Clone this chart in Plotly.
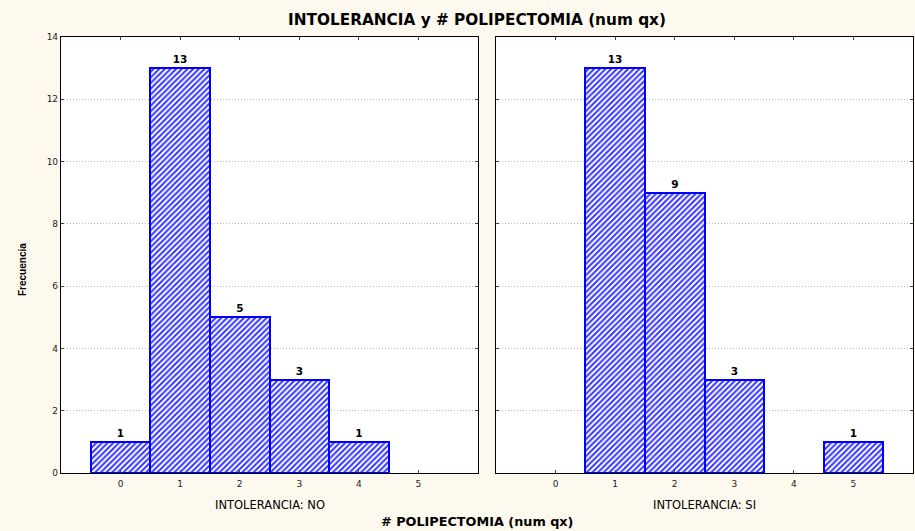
import plotly.graph_objects as go

categories = [0, 1, 2, 3, 4, 5]
counts_no = [1, 13, 5, 3, 1, None]
counts_si = [None, 13, 9, 3, None, 1]
y_ticks = [0, 2, 4, 6, 8, 10, 12, 14]

W, H = 915, 531
BG = "#FDF9EF"
BLUE = "#0000FF"
SANS = "Liberation Sans, Arial"
WIDE = "DejaVu Sans"

def fx(px):
    return px / W

def fy(py):
    return 1 - py / H

fig = go.Figure()

def bar(xs, ys, xa, ya):
    return go.Bar(
        x=xs, y=ys, width=1.0, xaxis=xa, yaxis=ya,
        marker=dict(color="white", line=dict(color=BLUE, width=2),
                    pattern=dict(shape="/", fgcolor="#3535FF", bgcolor="white", size=4, solidity=0.5)),
        text=[("<b>%d</b>" % v) if v is not None else "" for v in ys],
        textposition="outside", textfont=dict(family=WIDE, size=10.5, color="black"),
        cliponaxis=False, showlegend=False, hoverinfo="skip",
    )

fig.add_trace(bar(categories, counts_no, "x", "y"))
fig.add_trace(bar(categories, counts_si, "x2", "y2"))

common_x = dict(range=[-1, 6], tickvals=categories, ticks="inside", ticklen=3, showgrid=False,
                showline=True, linecolor="black", linewidth=1.2, mirror="ticks", zeroline=False,
                automargin=False, ticklabelstandoff=2,
                tickfont=dict(family=WIDE, size=9, color="#222"), fixedrange=True)
common_y = dict(range=[0, 14], tickvals=y_ticks, ticks="inside", ticklen=3, showgrid=True,
                gridcolor="#BDBDBD", griddash="1px,2px", gridwidth=1, automargin=False,
                showline=True, linecolor="black", linewidth=1.2, mirror="ticks", zeroline=False,
                tickfont=dict(family=WIDE, size=9, color="#222"), fixedrange=True)

y0, y1 = fy(473), fy(37)
fig.update_layout(
    template="none",
    width=W, height=H, paper_bgcolor=BG, plot_bgcolor="white",
    margin=dict(l=0, r=0, t=0, b=0, autoexpand=False),
    bargap=0,
    xaxis=dict(domain=[fx(61), fx(478)], anchor="y", **common_x),
    yaxis=dict(domain=[y0, y1], anchor="x", **common_y),
    xaxis2=dict(domain=[fx(496), fx(913)], anchor="y2", **common_x),
    yaxis2=dict(domain=[y0, y1], anchor="x2", showticklabels=False, **common_y),
    font=dict(family=SANS, color="black"),
)

ann = [
    dict(text="<b>INTOLERANCIA y # POLIPECTOMIA (num qx)</b>", x=fx(477), y=fy(20), size=15.3),
    dict(text="<b># POLIPECTOMIA (num qx)</b>", x=fx(477), y=fy(521), size=12.8),
    dict(text="INTOLERANCIA: NO", x=fx(270), y=fy(505), size=11.5),
    dict(text="INTOLERANCIA: SI", x=fx(704), y=fy(505), size=11.5),
]
for a in ann:
    fig.add_annotation(text=a["text"], x=a["x"], y=a["y"], xref="paper", yref="paper",
                       showarrow=False, xanchor="center", yanchor="middle",
                       font=dict(family=WIDE, size=a["size"], color="black"))
fig.add_annotation(text="<b>Frecuencia</b>", x=fx(22), y=fy(270), xref="paper", yref="paper",
                   showarrow=False, textangle=-90, xanchor="center", yanchor="middle",
                   font=dict(family=SANS, size=10, color="black"))

fig.write_html("out.html", config={"displayModeBar": False},
               post_script="document.body.style.margin='0';document.body.style.overflow='hidden';document.body.style.background='%s';" % BG)
